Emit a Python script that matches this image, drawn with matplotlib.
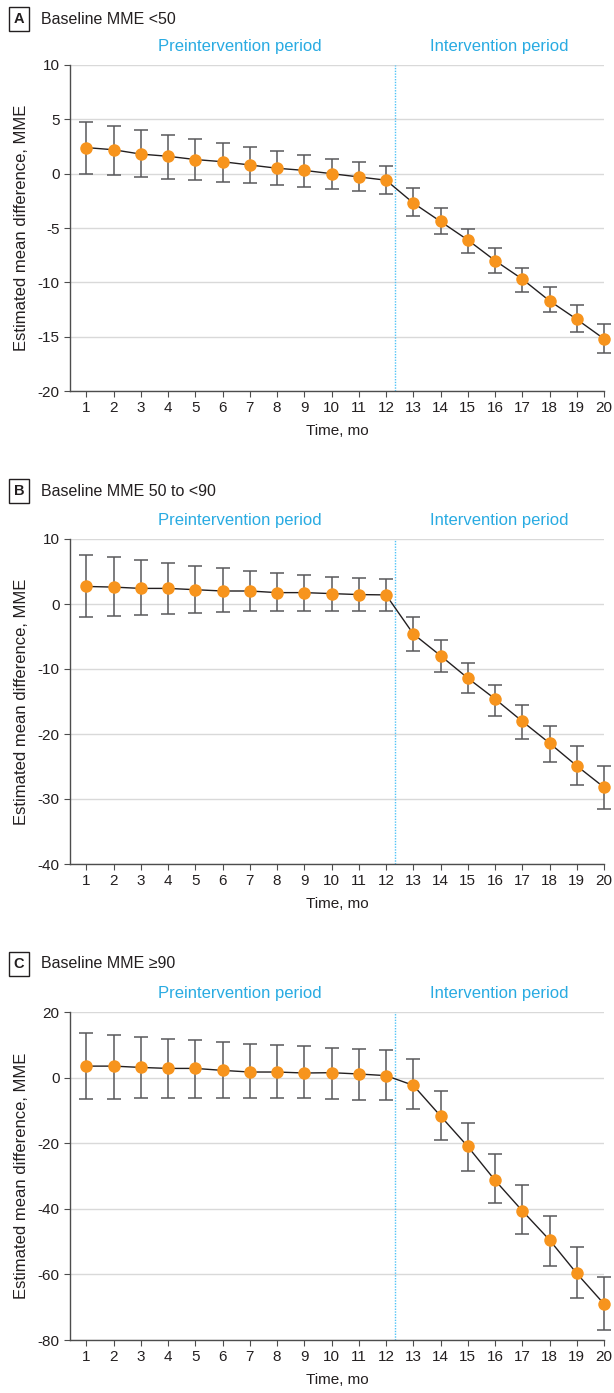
import numpy as np
import matplotlib
matplotlib.use("Agg")
import matplotlib.pyplot as plt

plt.rcParams["font.family"] = ["Liberation Sans", "DejaVu Sans"]
plt.rcParams["axes.unicode_minus"] = False

# ── Data ─────────────────────────────────────────────────────────────────────
months = list(range(1, 21))

a_est = [2.4, 2.2, 1.8, 1.6, 1.3, 1.1, 0.8, 0.5, 0.3, 0.0, -0.3, -0.6,
         -2.7, -4.4, -6.1, -8.0, -9.7, -11.7, -13.4, -15.2]
a_lo = [0.0, -0.15, -0.3, -0.45, -0.6, -0.75, -0.85, -1.05, -1.2, -1.4, -1.6, -1.85,
        -3.85, -5.55, -7.3, -9.1, -10.9, -12.75, -14.6, -16.5]
a_hi = [4.8, 4.4, 4.0, 3.6, 3.2, 2.8, 2.45, 2.05, 1.7, 1.35, 1.05, 0.75,
        -1.3, -3.2, -5.05, -6.85, -8.65, -10.4, -12.05, -13.8]

b_est = [2.7, 2.6, 2.4, 2.4, 2.2, 2.0, 2.0, 1.75, 1.75, 1.6, 1.45, 1.4,
         -4.6, -7.95, -11.4, -14.6, -18.05, -21.4, -24.9, -28.2]
b_lo = [-2.05, -1.9, -1.75, -1.6, -1.45, -1.3, -1.15, -1.05, -1.05, -1.0, -1.05, -1.15,
        -7.2, -10.4, -13.75, -17.2, -20.7, -24.3, -27.9, -31.6]
b_hi = [7.6, 7.2, 6.7, 6.25, 5.9, 5.5, 5.15, 4.7, 4.45, 4.2, 3.95, 3.8,
        -2.05, -5.6, -9.0, -12.4, -15.6, -18.8, -21.85, -24.9]

c_est = [3.5, 3.5, 3.1, 2.8, 2.8, 2.2, 1.7, 1.7, 1.4, 1.5, 1.1, 0.6,
         -2.35, -11.7, -21.0, -31.3, -40.6, -49.5, -59.7, -69.0]
c_lo = [-6.6, -6.4, -6.3, -6.2, -6.2, -6.2, -6.2, -6.2, -6.3, -6.5, -6.7, -6.9,
        -9.6, -19.0, -28.5, -38.1, -47.7, -57.4, -67.2, -76.9]
c_hi = [13.5, 12.9, 12.3, 11.8, 11.4, 10.8, 10.3, 9.9, 9.5, 9.0, 8.65, 8.35,
        5.6, -4.1, -13.7, -23.2, -32.7, -42.1, -51.6, -60.9]

panels = [
    ("A", "Baseline MME <50", a_est, a_lo, a_hi, (-20, 10), 5),
    ("B", "Baseline MME 50 to <90", b_est, b_lo, b_hi, (-40, 10), 10),
    ("C", "Baseline MME \u226590", c_est, c_lo, c_hi, (-80, 20), 20),
]
CUT = 12.33          # start of intervention period

ORANGE = "#F7941D"
DARK = "#231F20"
BAR = "#58595B"
BLUE = "#29ABE2"

W, H = 614, 1393
fig = plt.figure(figsize=(W / 100, H / 100), dpi=100)

# axes boxes in pixels: (top, bottom)
boxes = [(65, 391), (539, 864), (1012, 1340)]
left_px, right_px = 70, 604
title_y = [19, 491, 964]

for (letter, title, est, lo, hi, ylim, step), (top, bot), ty in zip(panels, boxes, title_y):
    ax = fig.add_axes([left_px / W, 1 - bot / H, (right_px - left_px) / W, (bot - top) / H])
    est = np.array(est); lo = np.array(lo); hi = np.array(hi)

    eb = ax.errorbar(months, est, yerr=[est - lo, hi - est], fmt="none", ecolor=BAR,
                     elinewidth=1.1, capsize=4.7, capthick=1.1, zorder=2)
    for art in eb.lines[1] + eb.lines[2]:
        art.set_clip_on(False)
    ax.plot(months, est, color=DARK, lw=1.0, zorder=3, clip_on=False)
    ax.plot(months, est, "o", color=ORANGE, ms=9, mew=0, zorder=4, clip_on=False)

    ax.axvline(CUT, color="#4FC3F7", lw=1.0, ls=(0, (1, 1)), zorder=1)
    ax.set_xlim(0.4, 20)
    ax.set_ylim(*ylim)
    ax.set_yticks(np.arange(ylim[0], ylim[1] + 1, step))
    ax.set_xticks(months)
    ax.yaxis.grid(True, color="#D9D9D9", lw=1.0)
    ax.set_axisbelow(True)
    for s in ("top", "right"):
        ax.spines[s].set_visible(False)
    for s in ("left", "bottom"):
        ax.spines[s].set_color("#4D4D4D")
        ax.spines[s].set_linewidth(1.0)
    ax.tick_params(axis="both", colors="#4D4D4D", labelcolor=DARK, labelsize=11, length=4)
    ax.set_xlabel("Time, mo", fontsize=11, color=DARK, labelpad=6)
    ax.set_ylabel("Estimated mean difference, MME", fontsize=12, color=DARK, labelpad=6)

    ax.text(6.65, 1.035, "Preintervention period", transform=ax.get_xaxis_transform(),
            ha="center", va="bottom", fontsize=12, color=BLUE)
    ax.text(16.15, 1.035, "Intervention period", transform=ax.get_xaxis_transform(),
            ha="center", va="bottom", fontsize=12, color=BLUE)

    fig.text(19 / W, 1 - ty / H, letter, ha="center", va="center", fontsize=10.5,
             fontweight="bold", color=DARK,
             bbox=dict(boxstyle="square,pad=0.35", fc="white", ec=DARK, lw=1.0))
    fig.text(41 / W, 1 - ty / H, title, ha="left", va="center", fontsize=11.5, color=DARK)

fig.savefig("out.png", dpi=100)
